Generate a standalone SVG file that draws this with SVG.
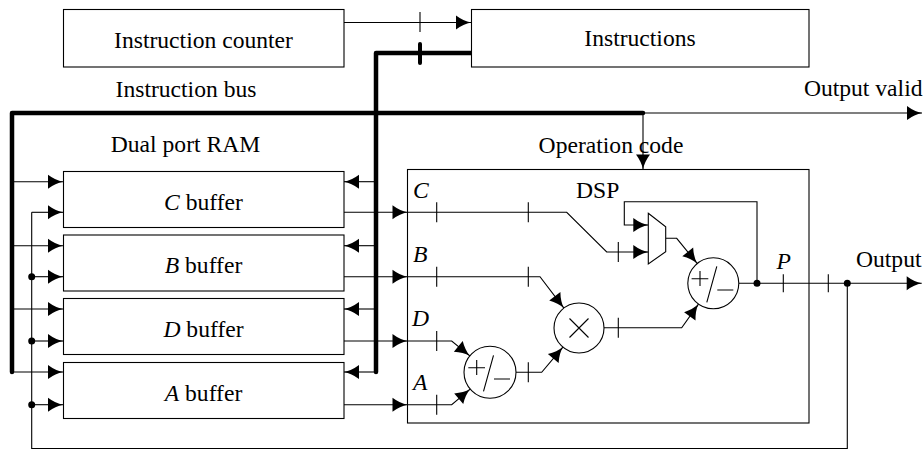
<svg xmlns="http://www.w3.org/2000/svg" width="924" height="450" viewBox="0 0 924 450" font-family="'Liberation Serif', 'Times New Roman', 'DejaVu Serif', serif">
<style>
.box{fill:#fff;stroke:#000;stroke-width:1.1}
.op{fill:#fff;stroke:#000;stroke-width:1.1}
.sym{fill:none;stroke:#000;stroke-width:1.1;stroke-linecap:butt}
.w{fill:none;stroke:#000;stroke-width:1.1;stroke-linejoin:miter}
.a{fill:none;stroke:#000;stroke-width:1.1;marker-end:url(#ah)}
.bus{fill:none;stroke:#000;stroke-width:4.5;stroke-linejoin:round;stroke-linecap:round}
.tk{stroke:#000;stroke-width:1.1}
.tkb{stroke:#000;stroke-width:4;stroke-linecap:round}
.dot{fill:#000}
text{font-family:'Liberation Serif','Times New Roman','DejaVu Serif',serif;font-size:23.6px;fill:#000}
.it{font-style:italic}
.m{text-anchor:middle}
</style>
<defs>
<marker id="ah" markerUnits="userSpaceOnUse" markerWidth="15" markerHeight="14" refX="15" refY="7" orient="auto" overflow="visible">
<path d="M15,7 Q7.5,5.6 0,0 L0,14 Q7.5,8.4 15,7 Z" fill="#000"/>
</marker>
</defs>

<g id="connectors">
<path class="a" d="M344,22.5 H471"/>
<line class="tk" x1="420" y1="12" x2="420" y2="32"/>
<path class="bus" d="M12,372 V113 H643"/>
<path class="bus" d="M376,372 V53 H471"/>
<line class="tkb" x1="420" y1="44" x2="420" y2="63"/>
<path class="a" d="M643,113 H922"/>
<path class="a" d="M643,113 V169.5"/>
<path class="a" d="M12,181.7 H63"/>
<path class="a" d="M12,245.7 H63"/>
<path class="a" d="M12,309 H63"/>
<path class="a" d="M12,372 H63"/>
<path class="w" d="M31.7,212.3 V448.5 H847.3 V283.3"/>
<path class="a" d="M31.7,212.3 H63"/>
<path class="a" d="M31.7,276.7 H63"/>
<path class="a" d="M31.7,341 H63"/>
<path class="a" d="M31.7,404.7 H63"/>
<circle class="dot" cx="31.7" cy="276.7" r="3.5"/>
<circle class="dot" cx="31.7" cy="341" r="3.5"/>
<circle class="dot" cx="31.7" cy="404.7" r="3.5"/>
<path class="a" d="M376,181.7 H344"/>
<path class="a" d="M376,245.7 H344"/>
<path class="a" d="M376,309 H344"/>
<path class="a" d="M376,372 H344"/>
<path class="a" d="M344,212.3 H407.5"/>
<path class="a" d="M344,276.7 H407.5"/>
<path class="a" d="M344,341 H407.5"/>
<path class="a" d="M344,404.7 H407.5"/>
<path class="a" d="M407.5,212.3 H566.7 L606.7,252 H648.3"/>
<line class="tk" x1="436.7" y1="202.3" x2="436.7" y2="222.3"/>
<line class="tk" x1="528.3" y1="202.3" x2="528.3" y2="222.3"/>
<line class="tk" x1="618.3" y1="242" x2="618.3" y2="262"/>
<path class="a" d="M757,283.3 V201.7 H624.3 V225 H648.3"/>
<path class="a" d="M665.7,238.3 H676.7 L697.2,263.5"/>
<path class="a" d="M407.5,276.7 H540 L563.9,308.1"/>
<line class="tk" x1="436.7" y1="266.7" x2="436.7" y2="286.7"/>
<line class="tk" x1="528.3" y1="266.7" x2="528.3" y2="286.7"/>
<path class="a" d="M407.5,341 H451.7 L469.9,355.9"/>
<line class="tk" x1="436.7" y1="331" x2="436.7" y2="351"/>
<path class="a" d="M407.5,404.7 H451.7 L470.2,389.1"/>
<line class="tk" x1="436.7" y1="394.7" x2="436.7" y2="414.7"/>
<path class="a" d="M516,372.3 H541.7 L562.9,347.1"/>
<line class="tk" x1="528.3" y1="362.3" x2="528.3" y2="382.3"/>
<path class="a" d="M604,327.7 H681.7 L698.5,304.1"/>
<line class="tk" x1="618.3" y1="317.7" x2="618.3" y2="337.7"/>
<path class="a" d="M738.8,283.3 H921.7"/>
<line class="tk" x1="783.3" y1="274.3" x2="783.3" y2="292.3"/>
<line class="tk" x1="828.3" y1="274.3" x2="828.3" y2="292.3"/>
<circle class="dot" cx="757" cy="283.3" r="3.5"/>
<circle class="dot" cx="847.3" cy="283.3" r="3.5"/>
</g>

<g id="labels">
<text class="m" x="186" y="96.5">Instruction bus</text>
<text class="m" x="185.5" y="151.5">Dual port RAM</text>
<text x="922.5" y="95.5" text-anchor="end">Output valid</text>
<text class="m" x="611" y="153">Operation code</text>
<text x="921.5" y="266.7" text-anchor="end">Output</text>
<text class="it" x="776.5" y="269">P</text>
<text class="it" x="413" y="198">C</text>
<text class="it" x="413" y="261.7">B</text>
<text class="it" x="412" y="325.7">D</text>
<text class="it" x="413" y="390">A</text>
</g>

<g id="instruction-counter">
<rect class="box" x="63.5" y="9.5" width="280.5" height="57.5"/>
<text class="m" x="203.5" y="48">Instruction counter</text>
</g>
<g id="instructions">
<rect class="box" x="471.5" y="9.5" width="337.5" height="57.5"/>
<text class="m" x="640" y="46">Instructions</text>
</g>

<g id="c-buffer">
<rect class="box" x="63.5" y="171.5" width="280.5" height="56"/>
<text class="m" x="203.5" y="210"><tspan class="it">C</tspan> buffer</text>
</g>
<g id="b-buffer">
<rect class="box" x="63.5" y="235" width="280.5" height="56"/>
<text class="m" x="203.5" y="273"><tspan class="it">B</tspan> buffer</text>
</g>
<g id="d-buffer">
<rect class="box" x="63.5" y="298.5" width="280.5" height="56"/>
<text class="m" x="203.5" y="336.5"><tspan class="it">D</tspan> buffer</text>
</g>
<g id="a-buffer">
<rect class="box" x="63.5" y="362.5" width="280.5" height="56"/>
<text class="m" x="203.5" y="400.5"><tspan class="it">A</tspan> buffer</text>
</g>

<g id="dsp">
<rect x="407.5" y="169.5" width="401.5" height="253.5" fill="none" stroke="#000" stroke-width="1.1"/>
<text x="576" y="198">DSP</text>
</g>

<g id="mux">
<polygon class="op" points="648.3,213.3 665.7,226.7 665.7,251.7 648.3,264"/>
</g>

<g id="adder-top">
<circle class="op" cx="713.3" cy="283.3" r="25.5"/>
<path class="sym" d="M691.6,278.7 H708.3 M700,271 V286 M716.8,266.3 L706.8,302.3 M717.3,290 H733.3"/>
</g>

<g id="multiplier">
<circle class="op" cx="579" cy="328" r="25"/>
<path class="sym" d="M569.5,318.5 L588.5,337.5 M588.5,318.5 L569.5,337.5"/>
</g>

<g id="adder-bottom">
<circle class="op" cx="490" cy="372.3" r="26"/>
<path class="sym" d="M468.3,367.7 H485 M476.7,360 V375 M493.5,355.3 L483.5,391.3 M494,379 H510"/>
</g>
</svg>
